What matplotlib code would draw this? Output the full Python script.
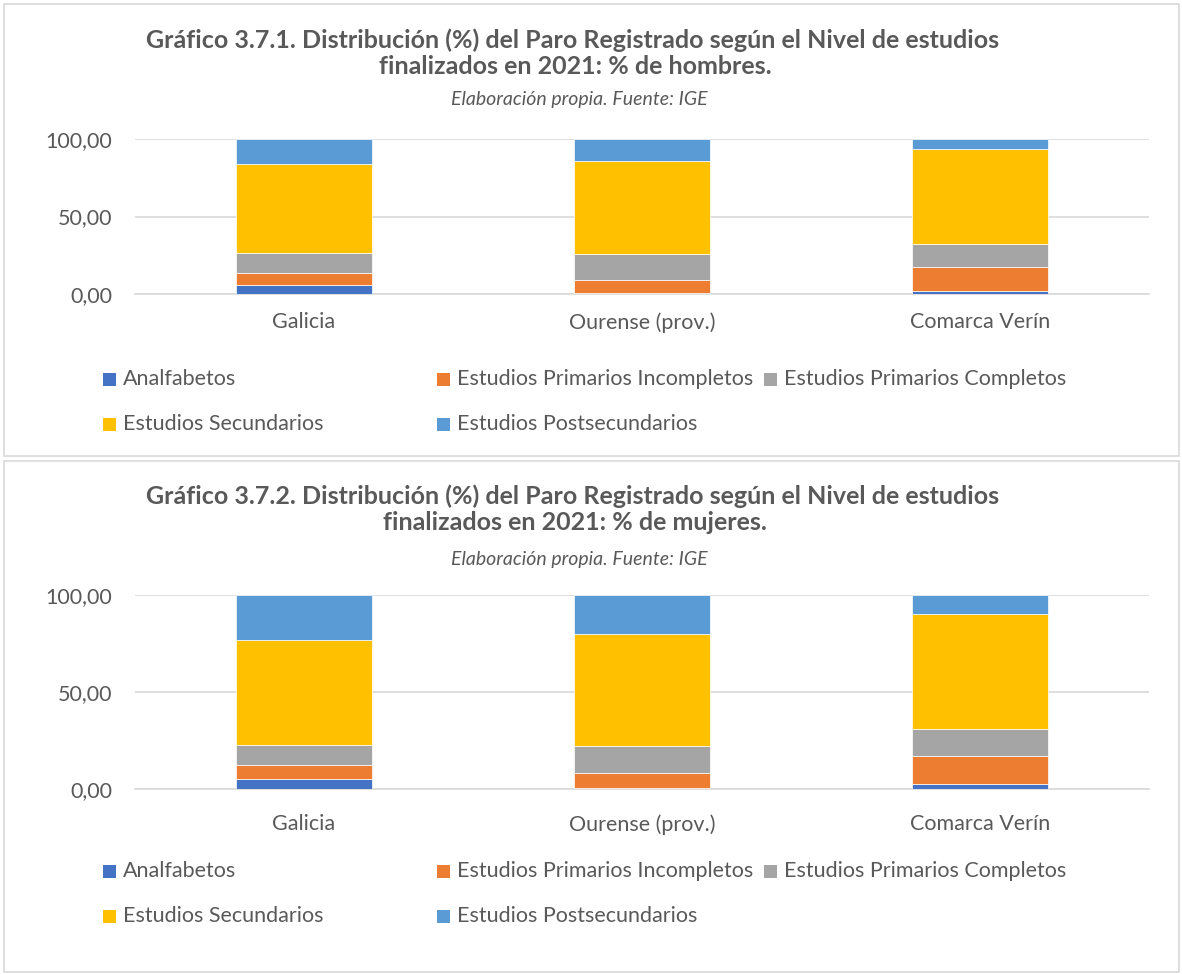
import matplotlib
matplotlib.use("Agg")
import matplotlib.pyplot as plt
from matplotlib.patches import Rectangle
from matplotlib.ticker import FuncFormatter, FixedLocator

plt.rcParams['font.family'] = ['Lato', 'DejaVu Sans']

categories = ["Galicia", "Ourense (prov.)", "Comarca Verín"]
series_names = ["Analfabetos", "Estudios Primarios Incompletos", "Estudios Primarios Completos",
                "Estudios Secundarios", "Estudios Postsecundarios"]
colors = ["#4472C4", "#ED7D31", "#A5A5A5", "#FFC000", "#5B9BD5"]

# % de hombres (per category: Galicia, Ourense, Verín)
men_analfabetos = [5.6, 0.4, 1.9]
men_prim_incomp = [8.0, 8.7, 15.4]
men_prim_comp = [13.0, 16.6, 15.1]
men_secundarios = [57.2, 60.4, 61.3]
men_postsec = [16.2, 13.9, 6.3]

# % de mujeres
women_analfabetos = [5.3, 0.8, 2.7]
women_prim_incomp = [7.0, 7.7, 14.3]
women_prim_comp = [10.5, 13.9, 14.0]
women_secundarios = [53.9, 57.7, 59.2]
women_postsec = [23.3, 19.9, 9.8]

yticks = [0, 50, 100]

titles_line1 = [
    "Gráfico 3.7.1. Distribución (%) del Paro Registrado según el Nivel de estudios",
    "Gráfico 3.7.2. Distribución (%) del Paro Registrado según el Nivel de estudios",
]
titles_line2 = [
    "finalizados en 2021: % de hombres.",
    "finalizados en 2021: % de mujeres.",
]
subtitle = "Elaboración propia. Fuente: IGE"

W, H = 1182, 974
fig = plt.figure(figsize=(W / 100, H / 100), dpi=100)
TXT = "#595959"
GRID = "#D9D9D9"
FS = 15.5


def fx(x):
    return x / W


def fy(y):
    return 1 - y / H


def draw_panel(series, t1, t2, ty, ax_top, ax_bot, panel_top, panel_bot, leg_rows, xpad):
    fig.patches.append(Rectangle((fx(4), fy(panel_bot)), fx(1179) - fx(4), fy(panel_top) - fy(panel_bot),
                                 transform=fig.transFigure, fill=False, edgecolor=GRID, linewidth=1.2))
    fig.text(fx(573), fy(ty[0]), t1, ha="center", va="center", fontsize=18, fontweight="bold", color=TXT)
    fig.text(fx(575), fy(ty[1]), t2, ha="center", va="center", fontsize=18, fontweight="bold", color=TXT)
    fig.text(fx(579), fy(ty[2]), subtitle, ha="center", va="center", fontsize=14, style="italic",
             color=TXT)
    ax = fig.add_axes([fx(135), fy(ax_bot), fx(1149) - fx(135), fy(ax_top) - fy(ax_bot)])
    x = list(range(len(categories)))
    bottom = [0.0] * len(categories)
    for name, vals, c in zip(series_names, series, colors):
        ax.bar(x, vals, 0.4, bottom=bottom, color=c, label=name, edgecolor="white", linewidth=0.5,
               zorder=3)
        bottom = [b + v for b, v in zip(bottom, vals)]
    ax.set_xlim(-0.5, len(categories) - 0.5)
    ax.set_ylim(0, 100)
    ax.yaxis.set_major_locator(FixedLocator(yticks))
    ax.yaxis.set_major_formatter(FuncFormatter(lambda v, p: f"{v:.2f}".replace(".", ",")))
    ax.set_xticks(x)
    ax.set_xticklabels(categories)
    ax.grid(axis="y", color=GRID, linewidth=1.2, zorder=0)
    for s in ["top", "right", "left"]:
        ax.spines[s].set_visible(False)
    ax.spines["bottom"].set_color(GRID)
    ax.spines["bottom"].set_linewidth(1.2)
    ax.tick_params(axis="both", length=0, labelsize=FS, labelcolor=TXT)
    ax.tick_params(axis="y", pad=16.5)
    ax.tick_params(axis="x", pad=xpad)
    cols = [103, 437, 764]
    order = [(0, 0, 0), (1, 1, 0), (2, 2, 0), (3, 0, 1), (4, 1, 1)]
    for idx, col, row in order:
        y = leg_rows[row]
        fig.patches.append(Rectangle((fx(cols[col]), fy(y + 6.5)), fx(13), 13 / H,
                                     transform=fig.transFigure, facecolor=colors[idx], edgecolor="none"))
        fig.text(fx(cols[col] + 20), fy(y), series_names[idx], ha="left", va="center", fontsize=FS,
                 color=TXT)
    return ax


men = [men_analfabetos, men_prim_incomp, men_prim_comp, men_secundarios, men_postsec]
women = [women_analfabetos, women_prim_incomp, women_prim_comp, women_secundarios, women_postsec]

draw_panel(men, titles_line1[0], titles_line2[0], (40, 66, 99), 139.3, 293.7, 4, 456, [379, 424], 13.5)
draw_panel(women, titles_line1[1], titles_line2[1], (496, 522, 559), 595, 789.3, 461, 972, [871, 916], 18)

fig.savefig("out.png", dpi=100)
